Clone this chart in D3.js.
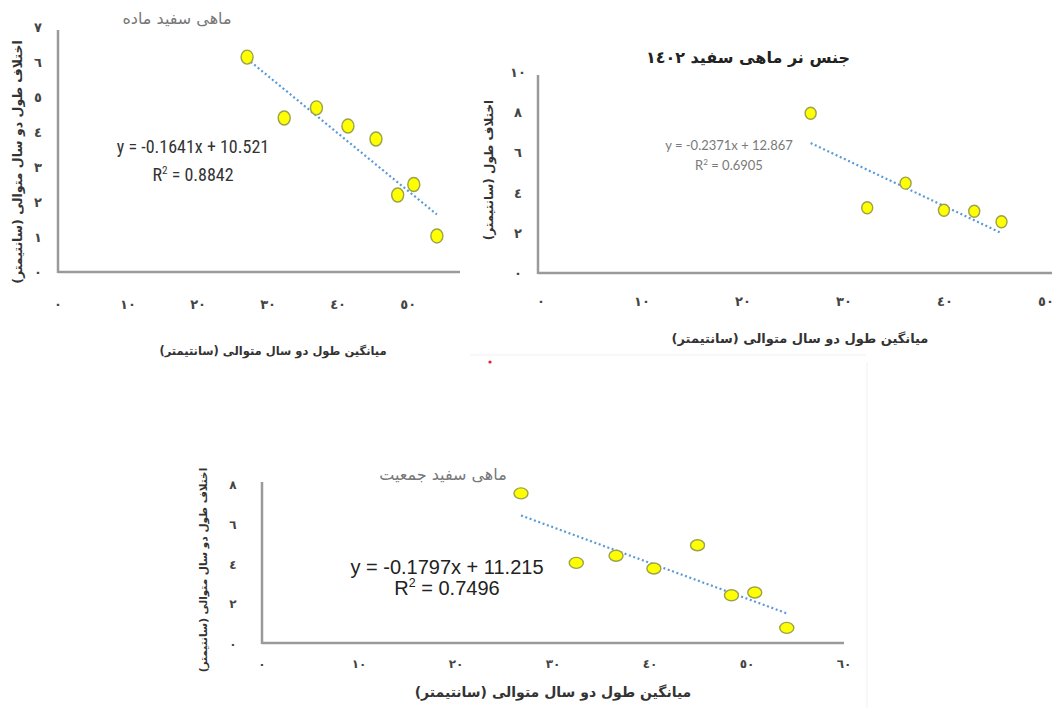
<!DOCTYPE html>
<html>
<head>
<meta charset="utf-8">
<script src="https://cdn.jsdelivr.net/npm/d3@7"></script>
<style>
  body { margin: 0; background: #fff; }
  svg { display: block; }
  .fa { font-family: "DejaVu Sans", "Noto Sans", sans-serif; }
</style>
</head>
<body>
<svg id="chart" width="1054" height="708"></svg>
<script>
// Data
var femaleX = [27.0, 32.3, 36.9, 41.4, 45.4, 48.5, 50.8, 54.1];
var femaleY = [6.14, 4.40, 4.69, 4.17, 3.80, 2.20, 2.50, 1.03];
var maleX = [27.0, 32.6, 36.4, 40.2, 43.2, 45.9];
var maleY = [7.95, 3.25, 4.47, 3.12, 3.07, 2.55];
var popX = [26.7, 32.4, 36.5, 40.4, 44.9, 48.4, 50.8, 54.1];
var popY = [7.53, 4.03, 4.39, 3.75, 4.92, 2.40, 2.54, 0.76];

// Regression lines (slope, intercept) as printed
var femaleFit = [-0.1641, 10.521];
var maleFit = [-0.2371, 12.867];
var popFit = [-0.1797, 11.215];

// Tick values and labels (Arabic-Indic digits as in the picture)
var femaleXTicks = [0, 10, 20, 30, 40, 50];
var femaleYTicks = [0, 1, 2, 3, 4, 5, 6, 7];
var maleXTicks = [0, 10, 20, 30, 40, 50];
var maleYTicks = [0, 2, 4, 6, 8, 10];
var popXTicks = [0, 10, 20, 30, 40, 50, 60];
var popYTicks = [0, 2, 4, 6, 8];

var titles = ['ماهی سفید ماده', 'جنس نر ماهی سفید ١٤٠٢', 'ماهی سفید جمعیت'];
var xTitle = 'میانگین طول دو سال متوالی (سانتیمتر)';
var yTitleLong = 'اختلاف طول دو سال متوالی (سانتیمتر)';
var yTitleShort = 'اختلاف طول (سانتیمتر)';

function arabicDigits(n) {
  return String(n).replace(/[0-9]/g, function(d) { return '٠١٢٣٤٥٦٧٨٩'[+d]; });
}

var svg = d3.select('#chart');

// faint frame lines of the pasted images
svg.append('line').attr('x1', 470).attr('x2', 866).attr('y1', 355).attr('y2', 355)
   .attr('stroke', '#f1f1f1').attr('stroke-width', 1);
svg.append('line').attr('x1', 867).attr('x2', 867).attr('y1', 362).attr('y2', 708)
   .attr('stroke', '#f1f1f1').attr('stroke-width', 1);
svg.append('circle').attr('cx', 490).attr('cy', 362).attr('r', 1.6).attr('fill', '#e0202a');

function drawPanel(p) {
  var x = d3.scaleLinear().domain([0, p.xMax]).range([p.x0, p.x1]);
  var y = d3.scaleLinear().domain([0, p.yMax]).range([p.y0, p.y1]);
  var g = svg.append('g');

  // axes lines
  g.append('line')
    .attr('x1', x(0)).attr('x2', p.axisRight)
    .attr('y1', y(0)).attr('y2', y(0))
    .attr('stroke', '#9a9a9a').attr('stroke-width', 2.5);
  g.append('line')
    .attr('x1', x(0)).attr('x2', x(0))
    .attr('y1', y(0) + 1).attr('y2', p.axisTop)
    .attr('stroke', '#9a9a9a').attr('stroke-width', 2.5);

  // tick labels
  g.selectAll('.xt').data(p.xTicks).enter().append('text')
    .attr('class', 'fa')
    .attr('x', function(d) { return x(d) + p.xLabelShift; })
    .attr('y', p.xLabelY)
    .attr('text-anchor', 'middle')
    .attr('font-size', p.tickSize).attr('font-weight', 'bold').attr('fill', '#444')
    .text(function(d) { return arabicDigits(d); });
  g.selectAll('.yt').data(p.yTicks).enter().append('text')
    .attr('class', 'fa')
    .attr('x', p.yLabelX)
    .attr('y', function(d) { return y(d) + 5; })
    .attr('text-anchor', 'middle')
    .attr('font-size', p.tickSize).attr('font-weight', 'bold').attr('fill', '#444')
    .text(function(d) { return arabicDigits(d); });

  // trend line
  var fx = d3.extent(p.xs);
  g.append('line')
    .attr('x1', x(fx[0])).attr('y1', y(p.fit[0] * fx[0] + p.fit[1]))
    .attr('x2', x(fx[1])).attr('y2', y(p.fit[0] * fx[1] + p.fit[1]))
    .attr('stroke', '#5b9bd5').attr('stroke-width', 2.2)
    .attr('stroke-dasharray', '2,2.6');

  // points
  g.selectAll('.pt').data(p.xs).enter().append('ellipse')
    .attr('cx', function(d) { return x(d); })
    .attr('cy', function(d, i) { return y(p.ys[i]); })
    .attr('rx', p.rx).attr('ry', p.ry)
    .attr('fill', '#ffff00').attr('stroke', '#9aa24c').attr('stroke-width', 1.4);

  // equation
  g.append('text')
    .attr('x', p.eqX).attr('y', p.eqY)
    .attr('text-anchor', 'middle')
    .attr('font-family', p.eqFont).attr('font-size', p.eqSize).attr('fill', p.eqColor)
    .text('y = ' + p.fit[0] + 'x + ' + p.fit[1]);
  var r2 = g.append('text')
    .attr('x', p.eqX).attr('y', p.eqY + p.eqGap)
    .attr('text-anchor', 'middle')
    .attr('font-family', p.eqFont).attr('font-size', p.eqSize).attr('fill', p.eqColor);
  r2.append('tspan').text('R');
  r2.append('tspan').attr('dy', -p.eqSize * 0.4).attr('font-size', p.eqSize * 0.62).text('2');
  r2.append('tspan').attr('dy', p.eqSize * 0.4).text(' = ' + p.r2);

  // titles
  g.append('text').attr('class', 'fa')
    .attr('x', p.titleX).attr('y', p.titleY)
    .attr('text-anchor', 'middle')
    .attr('font-size', p.titleSize).attr('font-weight', p.titleWeight).attr('fill', p.titleColor)
    .text(p.title);
  g.append('text').attr('class', 'fa')
    .attr('x', p.xTitleX).attr('y', p.xTitleY)
    .attr('text-anchor', 'middle')
    .attr('font-size', p.axisTitleSize).attr('font-weight', 'bold').attr('fill', '#333')
    .text(xTitle);
  g.append('text').attr('class', 'fa')
    .attr('transform', 'translate(' + p.yTitleX + ',' + p.yTitleY + ') rotate(-90)')
    .attr('text-anchor', 'middle')
    .attr('font-size', p.yTitleSize).attr('font-weight', 'bold').attr('fill', '#333')
    .text(p.yTitle);
}

drawPanel({
  xs: femaleX, ys: femaleY, fit: femaleFit, r2: '0.8842',
  xMax: 57.4, x0: 58, x1: 460, yMax: 7, y0: 272, y1: 27,
  axisRight: 460, axisTop: 30,
  xTicks: femaleXTicks, yTicks: femaleYTicks, xLabelY: 309, xLabelShift: 0, yLabelX: 38, tickSize: 13,
  rx: 6, ry: 7,
  eqX: 193, eqY: 153, eqGap: 28, eqSize: 18, eqFont: '"Liberation Sans Narrow", "Roboto Condensed", "Liberation Sans", sans-serif', eqColor: '#333',
  title: titles[0], titleX: 177, titleY: 24, titleSize: 16, titleWeight: 'normal', titleColor: '#777',
  xTitleX: 273, xTitleY: 355, axisTitleSize: 11.5,
  yTitle: yTitleLong, yTitleX: 22, yTitleY: 162, yTitleSize: 12.5
});

drawPanel({
  xs: maleX, ys: maleY, fit: maleFit, r2: '0.6905',
  xMax: 50.9, x0: 538, x1: 1052, yMax: 10, y0: 273, y1: 72,
  axisRight: 1052, axisTop: 75,
  xTicks: maleXTicks, yTicks: maleYTicks, xLabelY: 306, xLabelShift: 3, yLabelX: 518, tickSize: 13,
  rx: 5.5, ry: 6,
  eqX: 729, eqY: 150, eqGap: 20, eqSize: 13, eqFont: 'Lato, "Open Sans", sans-serif', eqColor: '#7a7a7a',
  title: titles[1], titleX: 748, titleY: 63, titleSize: 16, titleWeight: 'bold', titleColor: '#222',
  xTitleX: 800, xTitleY: 343, axisTitleSize: 13,
  yTitle: yTitleShort, yTitleX: 493, yTitleY: 170, yTitleSize: 12
});

drawPanel({
  xs: popX, ys: popY, fit: popFit, r2: '0.7496',
  xMax: 60, x0: 262, x1: 844, yMax: 8, y0: 643, y1: 484,
  axisRight: 844, axisTop: 482,
  xTicks: popXTicks, yTicks: popYTicks, xLabelY: 668, xLabelShift: 0, yLabelX: 233, tickSize: 12,
  rx: 7, ry: 5.5,
  eqX: 447, eqY: 574, eqGap: 21, eqSize: 20, eqFont: '"Liberation Sans", Arial, sans-serif', eqColor: '#222',
  title: titles[2], titleX: 443, titleY: 480, titleSize: 16, titleWeight: 'normal', titleColor: '#777',
  xTitleX: 553, xTitleY: 697, axisTitleSize: 14,
  yTitle: yTitleLong, yTitleX: 207, yTitleY: 570, yTitleSize: 10.5
});
</script>
</body>
</html>
